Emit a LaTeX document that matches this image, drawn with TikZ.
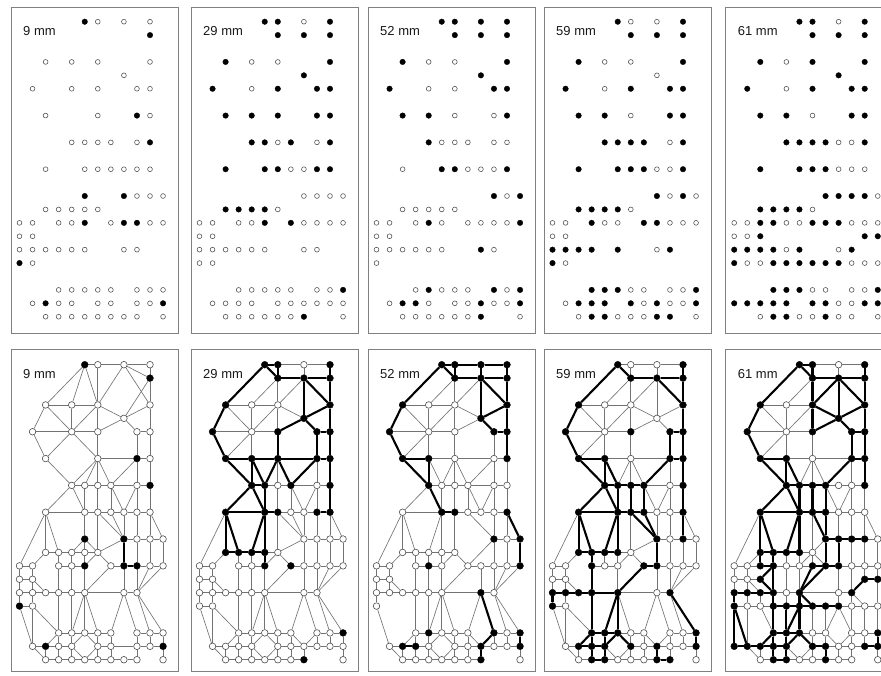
\documentclass[tikz,border=0pt]{standalone}
\usepackage{fontspec}
\setmainfont{Liberation Sans}
\usetikzlibrary{backgrounds}
\tikzset{
  frame/.style={draw=black!50, line width=0.9pt},
  thinedge/.style={draw=black!55, line width=0.65pt},
  thickedge/.style={draw=black, line width=2.1pt},
  opennode/.style={circle, draw=black!70, fill=white, line width=0.6pt, inner sep=0pt, minimum size=6.6pt},
  fullnode/.style={circle, draw=black, fill=black, line width=0.4pt, inner sep=0pt, minimum size=6.8pt},
  opendot/.style={circle, draw=black!70, fill=white, line width=0.55pt, inner sep=0pt, minimum size=4.8pt},
  fulldot/.style={circle, draw=black, fill=black, line width=0.3pt, inner sep=0pt, minimum size=5.6pt},
  lbl/.style={font=\fontsize{13}{15}\selectfont, anchor=west, inner sep=0pt, text=black!90}
}
% ---------- node lists  row/col/filled ----------
\def\nodesA{0/5/1,0/6/0,0/8/0,0/10/0,1/10/1,3/2/0,3/4/0,3/6/0,3/10/0,4/8/0,%
5/1/0,5/4/0,5/6/0,5/9/0,5/10/0,7/2/0,7/6/0,7/9/1,7/10/0,%
9/4/0,9/5/0,9/6/0,9/7/0,9/9/0,9/10/1,%
11/2/0,11/5/0,11/6/0,11/7/0,11/8/0,11/9/0,11/10/0,%
13/5/1,13/8/1,13/9/0,13/10/0,13/11/0,14/2/0,14/3/0,14/4/0,14/5/0,14/6/0,%
15/0/0,15/1/0,15/3/0,15/4/0,15/5/1,15/7/0,15/8/1,15/9/1,15/10/0,15/11/0,%
16/0/0,16/1/0,17/0/0,17/1/0,17/2/0,17/3/0,17/4/0,17/5/0,17/8/0,17/9/0,18/0/1,18/1/0,%
20/3/0,20/4/0,20/5/0,20/6/0,20/7/0,20/9/0,20/10/0,20/11/0,%
21/1/0,21/2/1,21/3/0,21/4/0,21/6/0,21/7/0,21/9/0,21/10/0,21/11/1,%
22/2/0,22/3/0,22/4/0,22/5/0,22/6/0,22/7/0,22/8/0,22/9/0,22/11/0}
\def\nodesB{0/5/1,0/6/1,0/8/0,0/10/1,1/6/1,1/8/1,1/10/1,3/2/1,3/4/0,3/6/0,3/10/1,4/8/1,%
5/1/1,5/4/0,5/6/1,5/9/1,5/10/1,7/2/1,7/4/1,7/6/1,7/9/1,7/10/1,%
9/4/1,9/5/1,9/6/0,9/7/1,9/9/0,9/10/1,%
11/2/1,11/5/1,11/6/1,11/7/0,11/8/0,11/9/1,11/10/1,%
13/8/0,13/9/0,13/10/0,13/11/0,14/2/1,14/3/1,14/4/1,14/5/1,14/6/0,%
15/0/0,15/1/0,15/3/0,15/4/0,15/5/1,15/7/1,15/8/0,15/9/0,15/10/0,15/11/0,%
16/0/0,16/1/0,17/0/0,17/1/0,17/2/0,17/3/0,17/4/0,17/5/0,17/8/0,17/9/0,18/0/0,18/1/0,%
20/3/0,20/4/0,20/5/0,20/6/0,20/7/0,20/9/0,20/10/0,20/11/1,%
21/1/0,21/2/0,21/3/0,21/4/0,21/6/0,21/7/0,21/8/0,21/9/0,21/10/0,21/11/0,%
22/2/0,22/3/0,22/4/0,22/5/0,22/6/0,22/7/0,22/8/1,22/11/0}
\def\nodesC{0/5/1,0/6/1,0/8/1,0/10/1,1/6/1,1/8/1,1/10/1,3/2/1,3/4/0,3/6/0,3/10/1,4/8/1,%
5/1/1,5/4/0,5/6/0,5/9/1,5/10/1,7/2/1,7/4/1,7/6/0,7/9/0,7/10/1,%
9/4/1,9/5/0,9/6/0,9/7/0,9/9/0,9/10/0,%
11/2/0,11/5/1,11/6/1,11/7/0,11/8/0,11/9/0,11/10/1,%
13/9/1,13/10/0,13/11/1,14/2/0,14/3/0,14/4/0,14/5/0,14/6/0,%
15/0/0,15/1/0,15/3/0,15/4/1,15/5/0,15/7/0,15/8/0,15/9/0,15/10/0,15/11/1,%
16/0/0,16/1/0,17/0/0,17/1/0,17/2/0,17/3/0,17/4/0,17/5/0,17/8/1,17/9/0,18/0/0,%
20/3/0,20/4/1,20/5/0,20/6/0,20/7/0,20/9/1,20/10/0,20/11/1,%
21/1/0,21/2/1,21/3/1,21/4/0,21/6/0,21/7/0,21/8/1,21/9/0,21/10/0,21/11/1,%
22/2/0,22/3/0,22/4/0,22/5/0,22/6/0,22/7/0,22/8/1,22/11/0}
\def\nodesD{0/5/1,0/6/0,0/8/0,0/10/1,1/6/1,1/8/1,1/10/1,3/2/1,3/4/0,3/6/0,3/10/1,4/8/0,%
5/1/1,5/4/0,5/6/1,5/9/1,5/10/1,7/2/1,7/4/1,7/6/0,7/9/1,7/10/1,%
9/4/1,9/5/1,9/6/1,9/7/1,9/9/0,9/10/1,%
11/2/1,11/5/1,11/6/1,11/7/1,11/8/0,11/9/0,11/10/1,%
13/8/1,13/9/0,13/10/1,13/11/0,14/2/1,14/3/1,14/4/1,14/5/1,14/6/0,%
15/0/0,15/1/0,15/3/1,15/4/0,15/5/0,15/7/1,15/8/1,15/9/0,15/10/0,15/11/0,%
16/0/0,16/1/0,17/0/1,17/1/1,17/2/1,17/3/1,17/5/1,17/8/0,17/9/1,18/0/1,18/1/0,%
20/3/1,20/4/1,20/5/1,20/6/0,20/7/0,20/9/0,20/10/0,20/11/1,%
21/1/0,21/2/1,21/3/1,21/4/1,21/6/1,21/7/0,21/8/1,21/9/0,21/10/0,21/11/1,%
22/2/0,22/3/1,22/4/1,22/5/0,22/6/0,22/7/0,22/8/1,22/9/1,22/11/0}
\def\nodesE{0/5/1,0/6/1,0/8/0,0/10/1,1/6/1,1/8/1,1/10/1,3/2/1,3/4/0,3/6/1,3/10/1,4/8/1,%
5/1/1,5/4/0,5/6/1,5/9/1,5/10/1,7/2/1,7/4/1,7/6/0,7/9/1,7/10/1,%
9/4/1,9/5/1,9/6/1,9/7/1,9/8/0,9/9/0,9/10/1,%
11/2/1,11/5/1,11/6/1,11/7/1,11/8/0,11/9/0,11/10/0,%
13/7/1,13/8/1,13/9/1,13/10/1,13/11/0,14/2/1,14/3/1,14/4/1,14/5/1,14/6/0,%
15/0/0,15/1/0,15/2/1,15/3/1,15/4/0,15/5/0,15/6/1,15/7/1,15/8/1,15/9/0,15/10/0,15/11/0,%
16/0/0,16/1/0,16/2/1,16/10/1,16/11/1,%
17/0/1,17/1/1,17/2/1,17/3/1,17/4/0,17/5/1,17/8/0,17/9/1,%
18/0/1,18/1/0,18/2/0,18/3/1,18/4/1,18/5/1,18/6/1,18/7/1,18/8/1,18/9/0,18/10/0,18/11/0,%
20/3/1,20/4/1,20/5/1,20/6/0,20/7/0,20/9/0,20/10/0,20/11/1,%
21/0/1,21/1/1,21/2/1,21/3/1,21/4/1,21/6/1,21/7/1,21/8/0,21/9/0,21/10/1,21/11/1,%
22/2/0,22/3/1,22/4/1,22/5/0,22/6/0,22/7/1,22/8/0,22/9/0,22/11/0}
% ---------- edge lists  r1/c1/r2/c2 ----------
\def\EALL{0/5/0/6,0/6/0/8,0/8/0/10,0/10/1/10,0/5/3/2,1/10/3/10,%
3/2/3/4,3/4/3/6,3/6/4/8,4/8/3/10,%
3/2/5/1,3/2/5/4,3/4/5/4,3/6/5/6,3/6/5/4,3/10/5/10,%
4/8/5/6,4/8/5/9,5/9/5/10,%
5/1/5/4,5/4/5/6,5/1/7/2,5/4/7/2,5/4/7/4,5/6/7/6,5/9/7/9,5/10/7/10,%
7/2/7/4,7/4/7/6,7/6/7/9,7/9/7/10,%
7/2/9/4,7/4/9/4,7/4/9/5,7/6/9/5,7/6/9/6,7/6/9/7,7/9/9/7,7/9/9/9,7/10/9/10,%
9/4/9/5,9/5/9/6,9/6/9/7,9/7/9/8,9/8/9/9,9/7/9/9,9/9/9/10,%
9/4/11/2,9/4/11/5,9/5/11/5,9/6/11/6,9/7/11/7,9/7/11/8,9/9/11/8,9/9/11/9,9/10/11/10,%
11/2/11/5,11/5/11/6,11/6/11/7,11/7/11/8,11/8/11/9,11/9/11/10,%
11/2/14/2,11/2/14/3,11/2/15/0,11/6/14/6,%
11/8/13/8,11/9/13/9,11/10/13/10,11/10/13/11,%
13/8/13/9,13/9/13/10,13/10/13/11,%
13/8/15/8,13/9/15/9,13/10/15/10,13/11/15/11,%
14/2/14/3,14/3/14/4,14/4/14/5,14/5/14/6,%
14/2/15/1,14/3/15/3,14/4/15/4,14/5/15/5,14/6/15/5,14/6/15/7,%
15/0/15/1,15/3/15/4,15/4/15/5,15/7/15/8,15/8/15/9,15/9/15/10,15/10/15/11,%
15/0/16/0,15/1/16/1,16/0/16/1,16/0/17/0,16/1/17/1,16/1/17/2,%
17/0/17/1,17/1/17/2,17/2/17/3,17/3/17/4,17/4/17/5,17/5/17/8,17/8/17/9,%
15/3/17/3,15/4/17/4,15/5/17/5,15/7/17/5,15/8/17/8,15/9/17/9,%
17/0/18/0,17/1/18/1,18/0/18/1,18/0/21/1,18/1/21/1,%
17/3/20/3,17/4/20/4,17/5/20/5,%
20/3/20/4,20/4/20/5,20/5/20/6,20/6/20/7,20/9/20/10,20/10/20/11,%
20/3/21/2,20/3/21/3,20/4/21/4,20/5/21/4,20/5/21/6,20/6/21/6,20/7/21/7,20/7/21/8,20/9/21/8,20/9/21/9,20/10/21/10,20/11/21/11,%
21/1/21/2,21/2/21/3,21/3/21/4,21/6/21/7,21/7/21/8,21/8/21/9,21/9/21/10,21/10/21/11,%
21/1/22/2,21/2/22/2,21/3/22/3,21/4/22/4,21/4/22/5,21/6/22/5,21/6/22/6,21/7/22/7,21/8/22/8,21/9/22/9,21/11/22/11,%
22/2/22/3,22/3/22/4,22/4/22/5,22/5/22/6,22/6/22/7,22/7/22/8,22/8/22/9}
\def\EONE{0/8/1/10,0/5/3/4,0/5/3/6,0/6/3/6,0/8/3/6,0/8/3/10,1/10/4/8,5/4/7/6,7/6/9/4,%
11/5/13/5,13/5/14/4,13/5/14/5,13/5/14/6,21/7/21/9}
\def\ETWO{0/5/1/6,0/6/1/6,1/6/1/8,1/8/1/10,0/8/1/8,1/6/3/4,1/6/3/6,1/8/3/6,1/8/3/10,1/8/4/8,%
11/5/14/4,11/5/14/5}
\def\EFOUR{11/6/13/8,11/7/13/8,13/8/14/6,17/5/20/4,17/5/20/6,17/8/20/7,17/8/20/9,17/9/20/10,17/9/20/11,%
18/1/20/3,15/10/17/9,15/11/17/9}
\def\EPthree{11/7/13/9,13/9/15/7}
\def\EPfour{17/3/17/5}
\def\EFIVE{11/6/13/7,11/7/13/7,13/7/13/8,13/7/14/6,13/7/15/7,%
14/2/15/2,15/1/15/2,15/2/15/3,15/5/15/6,15/6/15/7,14/6/15/6,15/6/17/5,%
15/3/16/2,16/2/17/3,16/1/16/2,15/10/16/10,15/11/16/11,16/10/16/11,16/10/17/9,%
18/1/18/2,18/2/18/3,18/3/18/4,18/4/18/5,18/5/18/6,18/6/18/7,18/7/18/8,18/8/18/9,18/9/18/10,18/10/18/11,%
17/2/18/2,17/3/18/3,17/4/18/4,17/5/18/5,17/5/18/6,17/8/18/8,17/9/18/9,17/9/18/10,16/11/18/11,%
18/2/20/3,18/3/20/3,18/4/20/4,18/5/20/5,18/5/20/4,18/6/20/6,18/7/20/7,18/8/20/7,18/8/20/9,18/9/20/9,18/10/20/10,18/11/20/11,%
18/0/21/0,21/0/21/1}
% ---------- panel builder ----------
\newcommand\mkpanel[4]{%
  \draw[frame] (#2,7) rectangle ++(167,326);
  \draw[frame] (#2,349) rectangle ++(167,322);
  \node[lbl] (#1-tlab) at ({#2+12},31) {#3};
  \node[lbl] (#1-blab) at ({#2+12},374) {#3};
  \foreach \rr/\cc/\ff in #4 {%
    \expandafter\xdef\csname fs@#1-\rr-\cc\endcsname{\ff}%
    \ifnum\ff=1\relax
      \node[fulldot] (#1t-\rr-\cc) at ({#2+8.5+13.05*\cc},{21.7+13.41*\rr}) {};
      \node[fullnode] (#1b-\rr-\cc) at ({#2+8.5+13.05*\cc},{364.7+13.41*\rr}) {};
    \else
      \node[opendot] (#1t-\rr-\cc) at ({#2+8.5+13.05*\cc},{21.7+13.41*\rr}) {};
      \node[opennode] (#1b-\rr-\cc) at ({#2+8.5+13.05*\cc},{364.7+13.41*\rr}) {};
    \fi
  }%
}
\newcommand\mkedges[3]{%
  \foreach \ra/\ca/\rb/\cb in #2 {%
    \ifcsname pgf@sh@ns@#1b-\ra-\ca\endcsname
      \ifcsname pgf@sh@ns@#1b-\rb-\cb\endcsname
        \ifnum\numexpr\csname fs@#1-\ra-\ca\endcsname*\csname fs@#1-\rb-\cb\endcsname\relax=#3\relax
          \ifnum#3=1\relax
            \draw[thickedge] (#1b-\ra-\ca) -- (#1b-\rb-\cb);
          \else
            \draw[thinedge] (#1b-\ra-\ca) -- (#1b-\rb-\cb);
          \fi
        \fi
      \fi
    \fi
  }%
}
\newcommand\alledges[1]{%
  \mkedges{A}{\EALL}{#1}\mkedges{A}{\EONE}{#1}\mkedges{A}{\EFOUR}{#1}%
  \mkedges{B}{\EALL}{#1}\mkedges{B}{\ETWO}{#1}\mkedges{B}{\EFOUR}{#1}%
  \mkedges{C}{\EALL}{#1}\mkedges{C}{\ETWO}{#1}\mkedges{C}{\EFOUR}{#1}\mkedges{C}{\EPthree}{#1}%
  \mkedges{D}{\EALL}{#1}\mkedges{D}{\ETWO}{#1}\mkedges{D}{\EFOUR}{#1}\mkedges{D}{\EPfour}{#1}%
  \mkedges{E}{\EALL}{#1}\mkedges{E}{\ETWO}{#1}\mkedges{E}{\EFIVE}{#1}%
}
\begin{document}
\begin{tikzpicture}[x=1pt,y=-1pt]
\useasboundingbox (0,0) rectangle (881,675);
\mkpanel{A}{11}{9 mm}{\nodesA}
\mkpanel{B}{191}{29 mm}{\nodesB}
\mkpanel{C}{368}{52 mm}{\nodesC}
\mkpanel{D}{544}{59 mm}{\nodesD}
\mkpanel{E}{725.7}{61 mm}{\nodesE}
\begin{pgfonlayer}{background}
\alledges{0}
\alledges{1}
\end{pgfonlayer}
\end{tikzpicture}
\end{document}
